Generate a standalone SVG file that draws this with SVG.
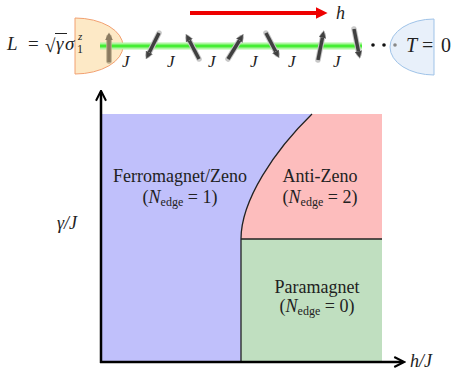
<svg xmlns="http://www.w3.org/2000/svg" width="456" height="372" viewBox="0 0 456 372">
<style>
text{font-family:"Liberation Serif","DejaVu Serif",serif;fill:#222;}
.m{font-style:italic;}
.lbl{font-size:18px;text-anchor:middle;}
.j{font-size:17px;font-style:italic;}
.halo{stroke:#c8c8c8;stroke-width:5.5;stroke-linecap:round;fill:none;}
.spin{stroke:#404040;stroke-width:3.5;fill:none;marker-end:url(#ah);}
</style>
<defs>
<marker id="ah" viewBox="0 0 10 10" refX="4" refY="5" markerWidth="2.2" markerHeight="2.2" orient="auto" markerUnits="strokeWidth">
<path d="M0,0 L10,5 L0,10 z" fill="#404040" stroke="#bbb" stroke-width="0.6"/>
</marker>
<marker id="ahb" viewBox="0 0 10 10" refX="4" refY="5" markerWidth="2.2" markerHeight="2.2" orient="auto" markerUnits="strokeWidth">
<path d="M0,0 L10,5 L0,10 z" fill="#8a7a60"/>
</marker>
<marker id="axh" viewBox="0 0 10 10" refX="8" refY="5" markerWidth="5" markerHeight="5" orient="auto" markerUnits="strokeWidth">
<path d="M1,1 L9,5 L1,9" fill="none" stroke="#000" stroke-width="1.6"/>
</marker>
<marker id="redh" viewBox="0 0 10 10" refX="2" refY="5" markerWidth="3" markerHeight="3" orient="auto" markerUnits="strokeWidth">
<path d="M0,0 L10,5 L0,10 z" fill="#ee0000"/>
</marker>
</defs>

<g id="bath-left">
<path d="M75,18 A48,28 0 0 1 75,74 Z" fill="#fde9c6" stroke="#f2a070" stroke-width="1"/>
</g>
<g id="bath-right">
<path d="M434,19 A44,28 0 0 0 434,75 Z" fill="#e8f0fa" stroke="#9fc3e8" stroke-width="1"/>
</g>

<g id="chain">
<line x1="100" y1="46" x2="362" y2="46" stroke="#aef5a0" stroke-width="7"/>
<line x1="100" y1="46" x2="362" y2="46" stroke="#44ee33" stroke-width="3"/>
</g>

<g id="spins">
<line x1="109" y1="61" x2="109" y2="37" stroke="#b8a888" stroke-width="5.5" stroke-linecap="round"/>
<line x1="109" y1="62" x2="109" y2="37" stroke="#8a7a60" stroke-width="3.5" marker-end="url(#ahb)"/>
<line class="halo" x1="159" y1="33" x2="148" y2="55"/>
<line class="spin" x1="159" y1="33" x2="148" y2="55"/>
<line class="halo" x1="199" y1="59" x2="188" y2="38"/>
<line class="spin" x1="199" y1="59" x2="188" y2="38"/>
<line class="halo" x1="228" y1="59" x2="241" y2="38"/>
<line class="spin" x1="228" y1="59" x2="241" y2="38"/>
<line class="halo" x1="266" y1="33" x2="277" y2="54"/>
<line class="spin" x1="266" y1="33" x2="277" y2="54"/>
<line class="halo" x1="318" y1="60" x2="323" y2="35"/>
<line class="spin" x1="318" y1="60" x2="323" y2="35"/>
<line class="halo" x1="354" y1="29" x2="359" y2="54"/>
<line class="spin" x1="354" y1="29" x2="359" y2="54"/>
</g>

<g id="couplings">
<text class="j" x="122" y="67">J</text>
<text class="j" x="167" y="67">J</text>
<text class="j" x="208" y="67">J</text>
<text class="j" x="250" y="67">J</text>
<text class="j" x="288" y="67">J</text>
<text class="j" x="333" y="67">J</text>
</g>

<g id="field">
<line x1="190" y1="13" x2="318" y2="13" stroke="#ee0000" stroke-width="4" marker-end="url(#redh)"/>
<text class="m" x="336" y="19" font-size="18">h</text>
</g>

<g id="dots">
<circle cx="373" cy="45" r="1.8" fill="#111"/>
<circle cx="384" cy="45" r="1.8" fill="#111"/>
<circle cx="395" cy="45" r="1.8" fill="#888"/>
</g>

<g id="labels-top">
<text class="m" x="7" y="50" font-size="19">L</text>
<text x="28" y="50" font-size="19">=</text>
<text x="45" y="52" font-size="19">√</text>
<line x1="55" y1="33.5" x2="67" y2="33.5" stroke="#222" stroke-width="1"/>
<text class="m" x="56" y="50" font-size="19">γ</text>
<text class="m" x="65" y="50" font-size="19">σ</text>
<text x="77" y="53" font-size="12">1</text>
<text class="m" x="78" y="40" font-size="11">z</text>
<text class="m" x="406" y="52" font-size="20">T</text>
<text x="422" y="52" font-size="20">=</text>
<text x="441" y="52" font-size="20">0</text>
</g>

<g id="regions">
<rect id="ferro" x="101" y="114" width="281" height="248" fill="#c0c0fb"/>
<path id="antizeno" d="M241,239 C241,200 275,150 312,114 L382,114 L382,239 Z" fill="#fdbdbd"/>
<rect id="para" x="241" y="239" width="141" height="123" fill="#c0dfc0"/>
</g>

<g id="connectors">
<path d="M241,362 L241,239 C241,200 275,150 312,114" fill="none" stroke="#222" stroke-width="1.3"/>
<line x1="241" y1="239" x2="382" y2="239" stroke="#222" stroke-width="1.3"/>
<line x1="101" y1="363" x2="101" y2="92" stroke="#000" stroke-width="2.5" marker-end="url(#axh)"/>
<line x1="100" y1="362" x2="403" y2="362" stroke="#000" stroke-width="2.5" marker-end="url(#axh)"/>
</g>

<g id="phase-labels">
<text class="lbl" x="180" y="182">Ferromagnet/Zeno</text>
<text class="lbl" x="180" y="203">(<tspan class="m">N</tspan><tspan font-size="12" dy="3">edge</tspan><tspan dy="-3"> = 1)</tspan></text>
<text class="lbl" x="320" y="182">Anti-Zeno</text>
<text class="lbl" x="320" y="203">(<tspan class="m">N</tspan><tspan font-size="12" dy="3">edge</tspan><tspan dy="-3"> = 2)</tspan></text>
<text class="lbl" x="317" y="293">Paramagnet</text>
<text class="lbl" x="317" y="312">(<tspan class="m">N</tspan><tspan font-size="12" dy="3">edge</tspan><tspan dy="-3"> = 0)</tspan></text>
</g>

<g id="axis-labels">
<text class="m" x="57" y="229" font-size="18">γ/J</text>
<text class="m" x="410" y="367" font-size="18">h/J</text>
</g>
</svg>
